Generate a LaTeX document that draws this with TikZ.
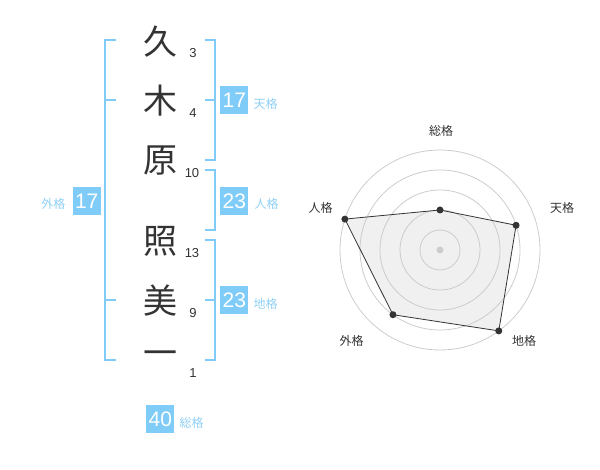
\documentclass[tikz,border=0pt]{standalone}
\usepackage{fontspec}
\setmainfont{Liberation Sans}
\newfontfamily\jp{Noto Sans CJK JP}
\definecolor{kblue}{HTML}{80CCF8}
\definecolor{klab}{HTML}{8FD0F5}
\definecolor{kdark}{HTML}{333333}
\definecolor{kgrid}{HTML}{CCCCCC}
\definecolor{kfill}{HTML}{F0F0F0}
\begin{document}
\begin{tikzpicture}[x=1pt,y=-1pt,
  kanji/.style={font=\jp\fontsize{34}{34}\selectfont,text=kdark,inner sep=0pt},
  strokes/.style={font=\fontsize{13}{13}\selectfont,text=kdark,inner sep=0pt},
  valbox/.style={fill=kblue,text=white,minimum width=28pt,minimum height=28pt,inner sep=0pt,font=\fontsize{21}{21}\selectfont},
  kaku/.style={font=\jp\fontsize{12}{12}\selectfont,text=klab,inner sep=0pt},
  brk/.style={draw=kblue,line width=2pt},
  rlabel/.style={font=\jp\fontsize{12}{12}\selectfont,text=kdark,inner sep=0pt},
  dot/.style={circle,fill=kdark,inner sep=0pt,minimum size=7pt}]
\useasboundingbox (0,0) rectangle (600,470);
% characters
\node[kanji] (c1) at (160,42) {久};
\node[kanji] (c2) at (160,101) {木};
\node[kanji] (c3) at (160,161) {原};
\node[kanji] (c4) at (160,241) {照};
\node[kanji] (c5) at (160,301) {美};
\node[kanji] (c6) at (160,358) {一};
% stroke counts
\node[strokes] (s1) at (193,53) {3};
\node[strokes] (s2) at (193,113) {4};
\node[strokes] (s3) at (192,173) {10};
\node[strokes] (s4) at (192,253) {13};
\node[strokes] (s5) at (193,313) {9};
\node[strokes] (s6) at (193,373) {1};
% brackets
\draw[brk] (116,40) -- (105.3,40) -- (105.3,360) -- (116,360);
\draw[brk] (105.3,100) -- (116,100);
\draw[brk] (105.3,300) -- (116,300);
\draw[brk] (204.7,40) -- (215,40) -- (215,160) -- (204.7,160);
\draw[brk] (204.7,100) -- (215,100);
\draw[brk] (204.7,170) -- (215,170) -- (215,230) -- (204.7,230);
\draw[brk] (204.7,240) -- (215,240) -- (215,360) -- (204.7,360);
\draw[brk] (204.7,300) -- (215,300);
% value boxes
\node[valbox] (b1) at (234.3,100.2) {17};
\node[kaku] (l1) at (265.7,103.5) {天格};
\node[valbox] (b2) at (234.3,200.8) {23};
\node[kaku] (l2) at (266.5,204) {人格};
\node[valbox] (b3) at (234.3,300.5) {23};
\node[kaku] (l3) at (265.7,304) {地格};
\node[valbox] (b4) at (86.7,200.8) {17};
\node[kaku] (l4) at (53.3,204) {外格};
\node[valbox] (b5) at (160.3,419.2) {40};
\node[kaku] (l5) at (191.7,422.5) {総格};
% radar chart
\begin{scope}[shift={(440,250)},yscale=-1]
  \coordinate (p1) at (90:40);
  \coordinate (p2) at (18:80);
  \coordinate (p3) at (-54:100);
  \coordinate (p4) at (-126:80);
  \coordinate (p5) at (162:100);
  \fill[kfill] (p1) -- (p2) -- (p3) -- (p4) -- (p5) -- cycle;
  \foreach \r in {20,40,60,80,100} \draw[kgrid,line width=0.8pt] (0,0) circle (\r);
  \fill[kgrid] (0,0) circle (3.5);
  \draw[kdark,line width=0.8pt] (p1) -- (p2) -- (p3) -- (p4) -- (p5) -- cycle;
  \foreach \p in {p1,p2,p3,p4,p5} \node[dot] at (\p) {};
\end{scope}
\node[rlabel] (r1) at (441,131) {総格};
\node[rlabel] (r2) at (562,208) {天格};
\node[rlabel] (r3) at (320.7,208) {人格};
\node[rlabel] (r4) at (524,341) {地格};
\node[rlabel] (r5) at (351.7,341) {外格};
\end{tikzpicture}
\end{document}
